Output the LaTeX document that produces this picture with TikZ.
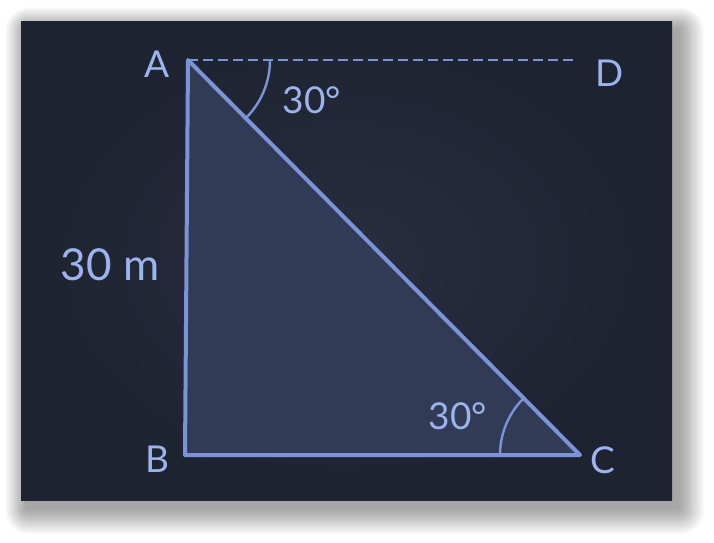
\documentclass[tikz,border=0pt]{standalone}
\usepackage{fontspec}
\setmainfont{Lato}
\definecolor{panel}{HTML}{1E2331}
\definecolor{panelmid}{HTML}{282E3F}
\definecolor{trifill}{HTML}{323B55}
\definecolor{lineblue}{HTML}{7B93D8}
\definecolor{txtblue}{HTML}{9DB3EE}
\tikzset{
  edge/.style={draw=lineblue, line width=4pt, line join=round},
  dashline/.style={draw=lineblue, line width=2.4pt, dash pattern=on 10pt off 5pt},
  anglearc/.style={draw=lineblue, line width=2.4pt},
  lbl/.style={text=txtblue, font=\fontsize{37}{40}\selectfont, inner sep=0pt},
  biglbl/.style={text=txtblue, font=\fontsize{44}{48}\selectfont, inner sep=0pt}
}
\begin{document}
\begin{tikzpicture}[x=1pt,y=-1pt]
\useasboundingbox (0,0) rectangle (714,542);
\fill[white] (0,0) rectangle (714,542);
% soft shadow
\foreach \i in {1,...,24} {
  \fill[black, opacity=0.016, rounded corners=\i pt] (21+6-\i*0.9, 21+8-\i*0.9) rectangle (672+6+\i*1.1, 500+8+\i*1.1);
}
% panel
\shade[inner color=panelmid, outer color=panel] (21,21) rectangle (672,500);
% vertices
\coordinate (A) at (188,60);
\coordinate (B) at (185,455);
\coordinate (C) at (580,455);
\coordinate (D) at (578,60);
% triangle
\fill[trifill] (A) -- (B) -- (C) -- cycle;
\draw[edge] (A) -- (B) -- (C) -- cycle;
\draw[dashline] (A) -- (D);
% angle arcs
\draw[anglearc] ([shift={(0:82)}]A) arc[start angle=0, end angle=45.2, radius=82];
\draw[anglearc] ([shift={(180:80)}]C) arc[start angle=180, end angle=225.2, radius=80];
% labels
\node[lbl] (lA) at (157,64) {A};
\node[lbl] (lB) at (157,459) {B};
\node[lbl] (lC) at (603,460) {C};
\node[lbl] (lD) at (610,73) {D};
\node[lbl] (a1) at (312,100) {30°};
\node[lbl] (a2) at (458,416) {30°};
\node[biglbl] (len) at (110,265) {30 m};
\end{tikzpicture}
\end{document}
